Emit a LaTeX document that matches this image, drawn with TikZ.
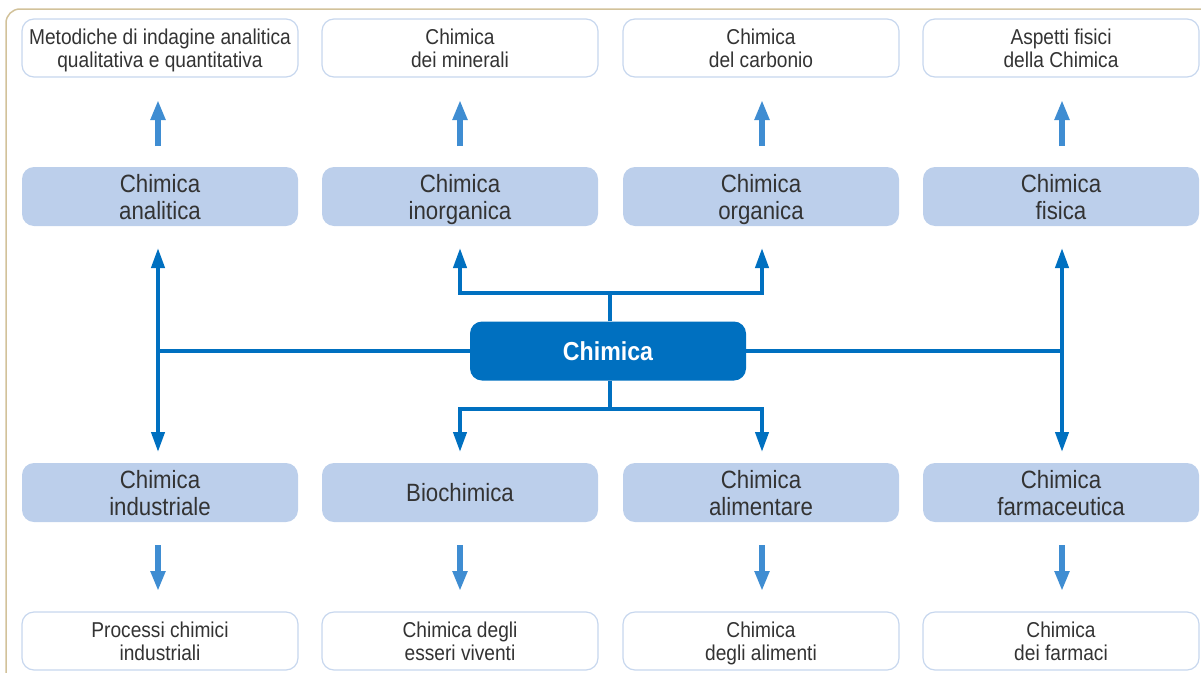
\documentclass[tikz,border=0pt]{standalone}
\usepackage{fontspec}
\setmainfont{Liberation Sans}[FakeStretch=0.89]
\usetikzlibrary{arrows.meta}
\definecolor{frame}{HTML}{D2C29A}
\definecolor{dark}{HTML}{0070C0}
\definecolor{light}{HTML}{3F8DD2}
\definecolor{boxfill}{HTML}{BCCFEB}
\definecolor{boxline}{HTML}{C7D7EE}
\definecolor{txt}{HTML}{333333}
\newcommand\tsp{\rule{0pt}{1.05em}}
\tikzset{
  wbox/.style={draw=boxline, line width=1.2pt, fill=white, rounded corners=12pt,
    minimum width=276pt, minimum height=58pt, inner sep=0pt, align=center,
    text=txt, font=\fontsize{21.5}{23}\selectfont},
  bbox/.style={fill=boxfill, rounded corners=12pt,
    minimum width=276pt, minimum height=59pt, inner xsep=0pt, inner ysep=-3pt, align=center,
    text=txt, font=\fontsize{25}{27}\selectfont},
  cbox/.style={fill=dark, rounded corners=12pt,
    minimum width=276pt, minimum height=59pt, inner sep=0pt, align=center,
    text=white, font=\bfseries\fontsize{26}{27}\selectfont},
  link/.style={draw=dark, line width=4pt},
  darr/.style={draw=dark, line width=4pt, -{Triangle[length=20pt,width=13pt]}},
  larr/.style={draw=light, line width=6pt, -{Triangle[length=20pt,width=14pt]}},
}
\begin{document}
\begin{tikzpicture}[x=1pt,y=-1pt]
\useasboundingbox (0,0) rectangle (1201,672);
\draw[frame, line width=1.5pt, rounded corners=14pt] (6,9) rectangle (1230,690);
% top white boxes
\node[wbox] (t1) at (160,48) {\tsp Metodiche di indagine analitica\\qualitativa e quantitativa\strut};
\node[wbox] (t2) at (460,48) {\tsp Chimica\\dei minerali\strut};
\node[wbox] (t3) at (761,48) {\tsp Chimica\\del carbonio\strut};
\node[wbox] (t4) at (1061,48) {\tsp Aspetti fisici\\della Chimica\strut};
% upper blue boxes
\node[bbox] (u1) at (160,196.5) {\tsp Chimica\\analitica\strut};
\node[bbox] (u2) at (460,196.5) {\tsp Chimica\\inorganica\strut};
\node[bbox] (u3) at (761,196.5) {\tsp Chimica\\organica\strut};
\node[bbox] (u4) at (1061,196.5) {\tsp Chimica\\fisica\strut};
% center
\node[cbox] (c) at (608,351) {Chimica};
% lower blue boxes
\node[bbox] (l1) at (160,492.5) {\tsp Chimica\\industriale\strut};
\node[bbox] (l2) at (460,492.5) {Biochimica};
\node[bbox] (l3) at (761,492.5) {\tsp Chimica\\alimentare\strut};
\node[bbox] (l4) at (1061,492.5) {\tsp Chimica\\farmaceutica\strut};
% bottom white boxes
\node[wbox] (b1) at (160,641) {\tsp Processi chimici\\industriali\strut};
\node[wbox] (b2) at (460,641) {\tsp Chimica degli\\esseri viventi\strut};
\node[wbox] (b3) at (761,641) {\tsp Chimica\\degli alimenti\strut};
\node[wbox] (b4) at (1061,641) {\tsp Chimica\\dei farmaci\strut};
% light arrows (upper-row to top, lower-row to bottom)
\foreach \x in {158,460,762,1062}{
  \draw[larr] (\x,146) -- (\x,100);
  \draw[larr] (\x,545) -- (\x,591);
}
% junction and tip coordinates
\coordinate (hl) at (158,351);
\coordinate (hr) at (1062,351);
\coordinate (tj) at (610,293);
\coordinate (bj) at (610,409);
\coordinate (u1t) at (158,248);
\coordinate (l1t) at (158,452);
\coordinate (u4t) at (1062,248);
\coordinate (l4t) at (1062,452);
\coordinate (u2t) at (460,248);
\coordinate (u3t) at (762,248);
\coordinate (l2t) at (460,452);
\coordinate (l3t) at (762,452);
% main horizontal
\draw[link] (c.west) -- (hl);
\draw[link] (c.east) -- (hr);
\draw[darr] (hl) -- (u1t);
\draw[darr] (hl) -- (l1t);
\draw[darr] (hr) -- (u4t);
\draw[darr] (hr) -- (l4t);
% top branch
\draw[link] (c.north-|tj) -- (tj);
\draw[darr] (tj) -| (u2t);
\draw[darr] (tj) -| (u3t);
% bottom branch
\draw[link] (c.south-|bj) -- (bj);
\draw[darr] (bj) -| (l2t);
\draw[darr] (bj) -| (l3t);
\end{tikzpicture}
\end{document}
